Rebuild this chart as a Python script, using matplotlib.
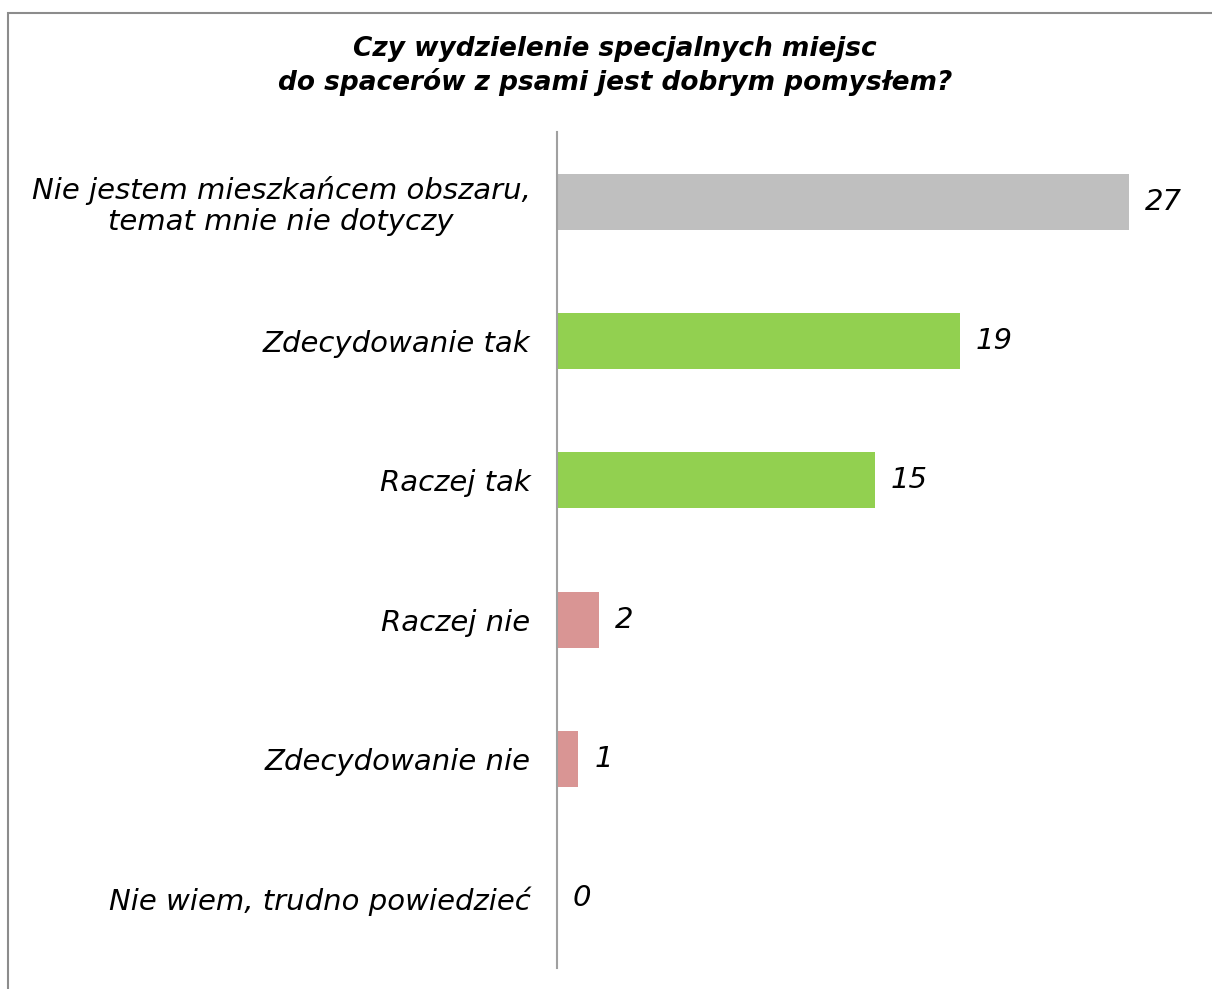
import matplotlib.pyplot as plt
from matplotlib.patches import Rectangle

categories = ["Nie jestem mieszkańcem obszaru,\ntemat mnie nie dotyczy",
              "Zdecydowanie tak", "Raczej tak", "Raczej nie",
              "Zdecydowanie nie", "Nie wiem, trudno powiedzieć"]
values = [27, 19, 15, 2, 1, 0]
colors = ["#BFBFBF", "#92D050", "#92D050", "#D99594", "#D99594", "#D99594"]

W, H = 1212, 989
fig = plt.figure(figsize=(W / 100, H / 100), dpi=100)
plt.rcParams['font.family'] = ['DejaVu Sans']

# outer frame (cut off at right and bottom)
fig.patches.append(Rectangle((8 / W, -0.05), 1.2, 1 - 13 / H + 0.05,
                             transform=fig.transFigure, fill=False,
                             edgecolor="#8C8C8C", linewidth=1.5))

ax = fig.add_axes([557 / W, 1 - 968 / H, (1200 - 557) / W, (968 - 132) / H])
y = list(range(len(categories)))
ax.barh(y, values, height=0.4, color=colors)
ax.set_ylim(len(categories) - 0.5, -0.5)
ax.set_xlim(0, 643 / 21.2)

for yi, v in zip(y, values):
    ax.text(v + 0.75, yi, str(v), va="center", ha="left",
            fontsize=21, fontstyle="italic")

ax.set_yticks(y)
ax.set_yticklabels(categories, fontsize=21, fontstyle="italic",
                   linespacing=1.15, ha="right", multialignment="center")
ax.tick_params(axis="y", length=0, pad=19)
ax.set_xticks([])
for s in ["top", "right", "bottom"]:
    ax.spines[s].set_visible(False)
ax.spines["left"].set_color("#A0A0A0")
ax.spines["left"].set_linewidth(1.5)

fig.text(615 / W, 1 - 66 / H,
         "Czy wydzielenie specjalnych miejsc\ndo spacerów z psami jest dobrym pomysłem?",
         ha="center", va="center", fontsize=19, fontweight="bold",
         fontstyle="italic", linespacing=1.3)

fig.savefig("out.png", dpi=100)
